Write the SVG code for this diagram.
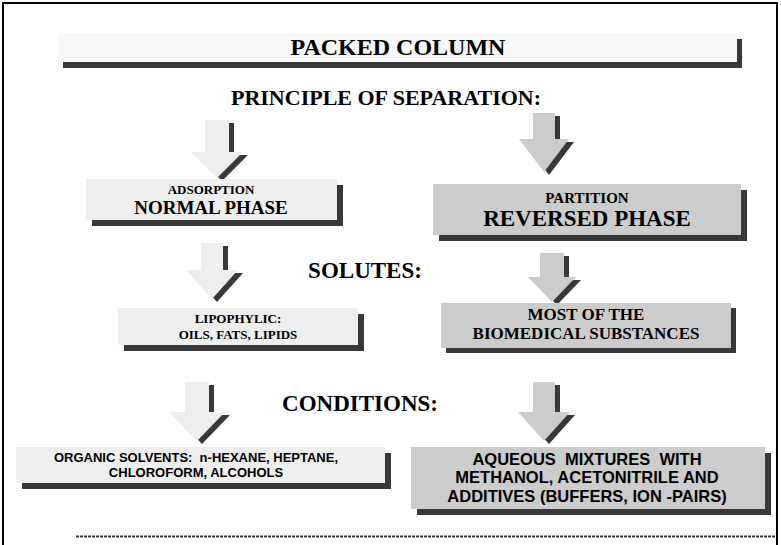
<svg xmlns="http://www.w3.org/2000/svg" width="781" height="545" viewBox="0 0 781 545">
<style>
.lt{fill:#eeeeee}
.gy{fill:#cccccc}
.ttl{fill:#f8f8f8}
.sh{fill:#383838}
.ser{font-family:"Liberation Serif","Times New Roman",serif;font-weight:bold;fill:#000;text-anchor:middle}
.san{font-family:"Liberation Sans",Arial,sans-serif;font-weight:bold;fill:#000;text-anchor:middle}
</style>
<rect x="0" y="0" width="781" height="545" fill="#fff"/>
<path d="M3,548 V3 H777 V548" fill="none" stroke="#000" stroke-width="2"/>

<g id="title">
<rect class="sh" x="63" y="39" width="679" height="29"/>
<rect class="ttl" x="58" y="33" width="679" height="29"/>
<text class="ser" x="398" y="55" font-size="24">PACKED COLUMN</text>
</g>

<g id="heading-principle"><text class="ser" x="386" y="105" font-size="22">PRINCIPLE OF SEPARATION:</text></g>
<g id="heading-solutes"><text class="ser" x="365" y="278" font-size="23">SOLUTES:</text></g>
<g id="heading-conditions"><text class="ser" x="360" y="411" font-size="23">CONDITIONS:</text></g>

<g id="connectors">
<g id="arrow-1">
<polygon class="sh" transform="translate(5,3)" points="205,120 229,120 229,152 243,152 217,178 191,152 205,152"/>
<polygon class="lt" points="205,120 229,120 229,152 243,152 217,178 191,152 205,152"/>
</g>
<g id="arrow-2">
<polygon class="sh" transform="translate(5,3)" points="533,113 555,113 555,139 569,139 544,172 519,139 533,139"/>
<polygon class="gy" points="533,113 555,113 555,139 569,139 544,172 519,139 533,139"/>
</g>
<g id="arrow-3">
<polygon class="sh" transform="translate(5,3)" points="201,243 223,243 223,270 238,270 212,299 186,270 201,270"/>
<polygon class="lt" points="201,243 223,243 223,270 238,270 212,299 186,270 201,270"/>
</g>
<g id="arrow-4">
<polygon class="sh" transform="translate(5,3)" points="540,253 564,253 564,277 576,277 552,302 528,277 540,277"/>
<polygon class="gy" points="540,253 564,253 564,277 576,277 552,302 528,277 540,277"/>
</g>
<g id="arrow-5">
<polygon class="sh" transform="translate(5,3)" points="185,382 209,382 209,412 225,412 197,441 169,412 185,412"/>
<polygon class="lt" points="185,382 209,382 209,412 225,412 197,441 169,412 185,412"/>
</g>
<g id="arrow-6">
<polygon class="sh" transform="translate(5,3)" points="533,382 555,382 555,412 570,412 544,441 518,412 533,412"/>
<polygon class="gy" points="533,382 555,382 555,412 570,412 544,441 518,412 533,412"/>
</g>
</g>

<g id="adsorption">
<rect class="sh" x="92" y="185" width="251" height="41"/>
<rect class="lt" x="86" y="179" width="251" height="41"/>
<text class="ser" x="211" y="194" font-size="13">ADSORPTION</text>
<text class="ser" x="211" y="214" font-size="19">NORMAL PHASE</text>
</g>

<g id="partition">
<rect class="sh" x="439" y="190" width="308" height="51"/>
<rect class="gy" x="433" y="184" width="308" height="51"/>
<text class="ser" x="587" y="203" font-size="15">PARTITION</text>
<text class="ser" x="587" y="226" font-size="23">REVERSED PHASE</text>
</g>

<g id="lipophylic">
<rect class="sh" x="124" y="314" width="240" height="37"/>
<rect class="lt" x="118" y="308" width="240" height="37"/>
<text class="ser" x="238" y="323" font-size="13">LIPOPHYLIC:</text>
<text class="ser" x="238" y="339" font-size="13">OILS, FATS, LIPIDS</text>
</g>

<g id="biomedical">
<rect class="sh" x="446" y="308" width="290" height="45"/>
<rect class="gy" x="441" y="303" width="290" height="45"/>
<text class="ser" x="586" y="320" font-size="17">MOST OF THE</text>
<text class="ser" x="586" y="339" font-size="17">BIOMEDICAL SUBSTANCES</text>
</g>

<g id="organic">
<rect class="sh" x="22" y="453" width="369" height="36"/>
<rect class="lt" x="16" y="447" width="369" height="36"/>
<text class="san" x="196" y="462" font-size="13" xml:space="preserve">ORGANIC SOLVENTS:  n-HEXANE, HEPTANE,</text>
<text class="san" x="196" y="477" font-size="13">CHLOROFORM, ALCOHOLS</text>
</g>

<g id="aqueous">
<rect class="sh" x="417" y="453" width="354" height="62"/>
<rect class="gy" x="411" y="447" width="354" height="62"/>
<text class="san" x="587" y="465" font-size="16.5" xml:space="preserve">AQUEOUS  MIXTURES  WITH</text>
<text class="san" x="587" y="483" font-size="16.5">METHANOL, ACETONITRILE AND</text>
<text class="san" x="587" y="502" font-size="16.5">ADDITIVES (BUFFERS, ION -PAIRS)</text>
</g>

<line x1="76" y1="536.5" x2="776" y2="536.5" stroke="#333" stroke-width="2" stroke-dasharray="3,1"/>
</svg>
